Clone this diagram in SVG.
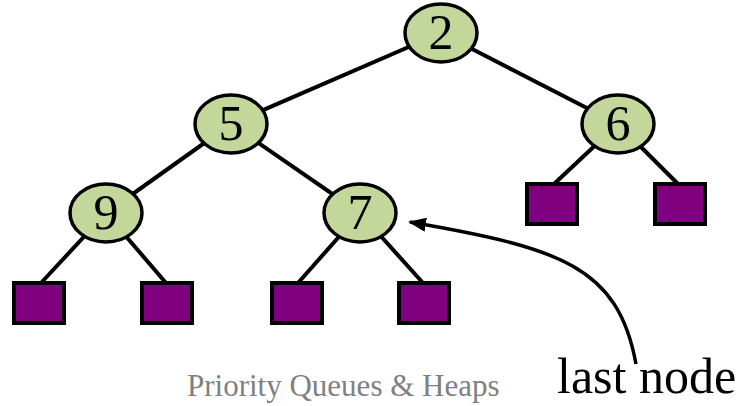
<svg xmlns="http://www.w3.org/2000/svg" width="743" height="406" viewBox="0 0 743 406">
<style>
.n ellipse{fill:#c4d79b;stroke:#000;stroke-width:3.5}
.n text{font-family:"Liberation Serif","Times New Roman",Times,serif;font-size:50px;text-anchor:middle;fill:#000}
.leaf rect{fill:#800080;stroke:#000;stroke-width:4}
.e line{stroke:#000;stroke-width:4}
.lbl{font-family:"Liberation Serif","Times New Roman",Times,serif}
</style>
<defs>
<marker id="ah" markerWidth="18" markerHeight="14" refX="16" refY="7" orient="auto" markerUnits="userSpaceOnUse">
<path d="M0,0 L18,7 L0,14 Z" fill="#000"/>
</marker>
</defs>
<rect width="743" height="406" fill="#fff"/>
<g id="connectors" class="e">
<line x1="441" y1="33" x2="231" y2="124"/>
<line x1="441" y1="33" x2="618" y2="124"/>
<line x1="231" y1="124" x2="106" y2="213"/>
<line x1="231" y1="124" x2="360" y2="213"/>
<line x1="618" y1="124" x2="554" y2="184"/>
<line x1="618" y1="124" x2="678" y2="184"/>
<line x1="106" y1="213" x2="41" y2="283"/>
<line x1="106" y1="213" x2="166" y2="283"/>
<line x1="360" y1="213" x2="298" y2="283"/>
<line x1="360" y1="213" x2="423" y2="283"/>
<path d="M636,364 C618,266 560,248 410,222" fill="none" stroke="#000" stroke-width="3.5" marker-end="url(#ah)"/>
</g>
<g id="n2" class="n"><ellipse cx="441" cy="33" rx="36" ry="29"/><text x="441" y="49">2</text></g>
<g id="n5" class="n"><ellipse cx="231" cy="124" rx="36" ry="29"/><text x="231" y="140">5</text></g>
<g id="n6" class="n"><ellipse cx="618" cy="124" rx="36" ry="29"/><text x="618" y="140">6</text></g>
<g id="n9" class="n"><ellipse cx="106" cy="213" rx="36" ry="29"/><text x="106" y="229">9</text></g>
<g id="n7" class="n"><ellipse cx="360" cy="213" rx="36" ry="29"/><text x="360" y="229">7</text></g>
<g id="l1" class="leaf"><rect x="527" y="184" width="50" height="40"/></g>
<g id="l2" class="leaf"><rect x="655" y="184" width="50" height="40"/></g>
<g id="l3" class="leaf"><rect x="14" y="283" width="50" height="40"/></g>
<g id="l4" class="leaf"><rect x="142" y="283" width="50" height="40"/></g>
<g id="l5" class="leaf"><rect x="272" y="283" width="50" height="40"/></g>
<g id="l6" class="leaf"><rect x="399" y="283" width="50" height="40"/></g>
<text class="lbl" x="557" y="393" font-size="50" fill="#000">last node</text>
<text class="lbl" x="187" y="396" font-size="31" fill="#808080">Priority Queues &amp; Heaps</text>
</svg>
